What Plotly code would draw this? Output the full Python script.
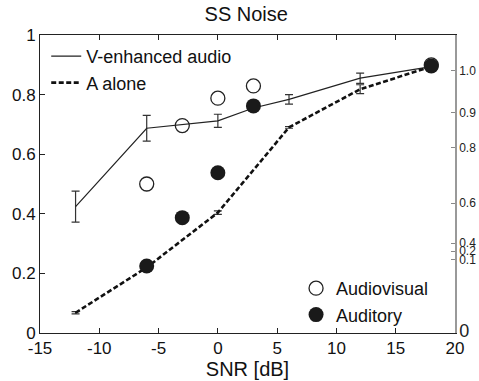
import plotly.graph_objects as go

# ---- data ----
snr_v = [-12, -6, 0, 3, 6, 12, 18]
venh = [0.424, 0.687, 0.712, 0.755, 0.784, 0.855, 0.894]
venh_err = [0.052, 0.043, 0.022, 0.0, 0.016, 0.017, 0.0]

snr_a = [-12, -6, 0, 6, 12, 18]
aalone = [0.068, 0.22, 0.404, 0.69, 0.818, 0.894]
aalone_err = [0.004, 0.0, 0.006, 0.003, 0.015, 0.0]

snr_pts = [-6, -3, 0, 3, 18]
audiovisual = [0.50, 0.696, 0.788, 0.829, 0.90]
auditory = [0.225, 0.387, 0.538, 0.762, 0.896]

x_ticks = [-15, -10, -5, 0, 5, 10, 15, 20]
x_tick_txt = ["-15", "-10", "-5", "0", "5", "10", "15", "20"]
y_ticks = [0, 0.2, 0.4, 0.6, 0.8, 1]
y_tick_txt = ["0", "0.2", "0.4", "0.6", "0.8", "1"]

right_tick_pos = [0.0, 0.245, 0.275, 0.302, 0.436, 0.623, 0.74, 0.88]
right_tick_txt = ['<span style="font-size:18px">0</span>', "0.1", "0.2", "0.4", "0.6", "0.8", "0.9", "1.0"]

FONT = "Liberation Sans, Arial, sans-serif"

fig = go.Figure()
fig.add_trace(go.Scatter(
    x=snr_v, y=venh, mode="lines", name="V-enhanced audio",
    line=dict(color="#222222", width=1.2),
    error_y=dict(type="data", array=venh_err, color="#333333", thickness=1.2, width=4),
    legend="legend"))
fig.add_trace(go.Scatter(
    x=snr_a, y=aalone, mode="lines", name="A alone",
    line=dict(color="#111111", width=2.6, dash="5px,2.5px"),
    error_y=dict(type="data", array=aalone_err, color="#333333", thickness=1.2, width=4),
    legend="legend"))
fig.add_trace(go.Scatter(
    x=snr_pts, y=audiovisual, mode="markers", name="Audiovisual",
    marker=dict(symbol="circle-open", size=14, color="#222222", line=dict(width=1.3)),
    legend="legend2"))
fig.add_trace(go.Scatter(
    x=snr_pts, y=auditory, mode="markers", name="Auditory",
    marker=dict(symbol="circle", size=15, color="#1a1a1a"),
    legend="legend2"))
# carrier for right axis
fig.add_trace(go.Scatter(x=[None], y=[None], yaxis="y2", showlegend=False, hoverinfo="skip"))

fig.update_layout(
    width=479, height=381,
    margin=dict(l=40, r=24, t=35, b=48),
    paper_bgcolor="white", plot_bgcolor="white",
    font=dict(family=FONT, size=17, color="#111111"),
    title=dict(text="SS Noise", x=0.497, xanchor="center", xref="paper",
               y=0.982, yanchor="top", yref="container",
               font=dict(size=20, family=FONT, color="#111111")),
    xaxis=dict(range=[-15, 20], tickvals=x_ticks, ticktext=x_tick_txt,
               ticks="inside", ticklen=5, tickcolor="#222", showline=True, linecolor="#222",
               linewidth=1, mirror="ticks", showgrid=False, zeroline=False,
               tickfont=dict(size=17), ticklabelstandoff=0, automargin=False,
               title=dict(text="SNR [dB]", font=dict(size=20), standoff=0)),
    yaxis=dict(range=[0, 1], tickvals=y_ticks, ticktext=y_tick_txt,
               ticks="inside", ticklen=5, tickcolor="#222", showline=True, linecolor="#222",
               linewidth=1, showgrid=False, zeroline=False, tickfont=dict(size=17),
               automargin=False),
    yaxis2=dict(range=[0, 1], overlaying="y", side="right", anchor="x",
                tickvals=right_tick_pos, ticktext=right_tick_txt,
                ticks="inside", ticklen=4, tickcolor="#888", showline=True,
                linecolor="#999", linewidth=1.5, showgrid=False, zeroline=False,
                tickfont=dict(size=12, color="#222"), automargin=False),
    legend=dict(x=0.015, y=0.99, xanchor="left", yanchor="top", bgcolor="rgba(0,0,0,0)",
                font=dict(size=18), borderwidth=0, tracegroupgap=0, itemwidth=30),
    legend2=dict(x=0.617, y=0.0, xanchor="left", yanchor="bottom", bgcolor="rgba(0,0,0,0)",
                 font=dict(size=18), borderwidth=0, itemwidth=30),
)

fig.write_html("out.html", config={"displayModeBar": False},
               post_script="document.body.style.margin='0';")
